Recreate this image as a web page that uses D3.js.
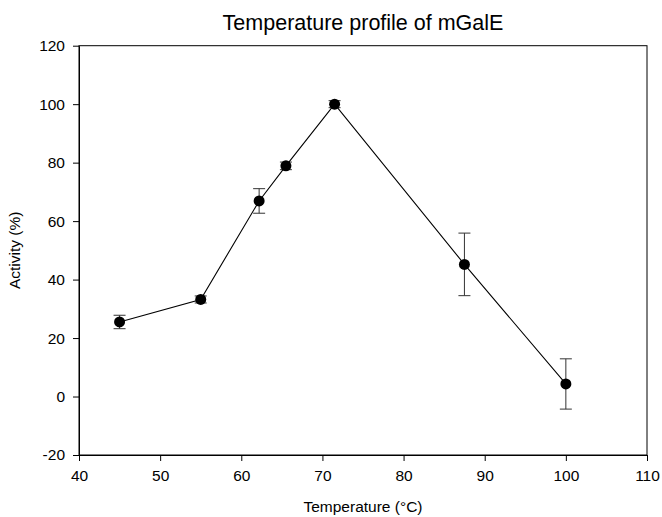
<!DOCTYPE html>
<html>
<head>
<meta charset="utf-8">
<script src="https://cdn.jsdelivr.net/npm/d3@7"></script>
<style>
  html, body { margin: 0; padding: 0; background: #fff; }
  svg { display: block; font-family: "Liberation Sans", Arial, sans-serif; }
</style>
</head>
<body>
<svg id="chart" width="662" height="517"></svg>
<script>
// Temperature (°C), relative activity (%) and its standard deviation
const temperature = [45, 55, 62.2, 65.5, 71.5, 87.5, 100];
const activity    = [25.5, 33.2, 66.9, 78.9, 100, 45.2, 4.3];
const errorSD     = [2.3, 1.2, 4.2, 1.3, 1.2, 10.7, 8.6];

const xTicks = [40, 50, 60, 70, 80, 90, 100, 110];
const yTicks = [-20, 0, 20, 40, 60, 80, 100, 120];

const titleText = "Temperature profile of mGalE";
const xLabel = "Temperature (°C)";
const yLabel = "Activity (%)";

const rows = temperature.map((t, i) => ({ t, a: activity[i], sd: errorSD[i] }));

const svg = d3.select("#chart");
const plotLeft = 79, plotRight = 647, plotTop = 45.7, plotBottom = 455;

const x = d3.scaleLinear().domain([40, 110]).range([plotLeft, plotRight]);
const y = d3.scaleLinear().domain([-20, 120]).range([plotBottom, plotTop]);

// frame
svg.append("rect")
  .attr("x", plotLeft).attr("y", plotTop)
  .attr("width", plotRight - plotLeft).attr("height", plotBottom - plotTop)
  .attr("fill", "none").attr("stroke", "#000").attr("stroke-width", 1);

// plain hyphen for negative tick labels
const plain = d => String(d);

const xAxis = svg.append("g")
  .attr("transform", `translate(0,${plotBottom})`)
  .call(d3.axisBottom(x).tickValues(xTicks).tickFormat(plain).tickSize(6).tickPadding(9).tickSizeOuter(0));
const yAxis = svg.append("g")
  .attr("transform", `translate(${plotLeft},0)`)
  .call(d3.axisLeft(y).tickValues(yTicks).tickFormat(plain).tickSize(6).tickPadding(8).tickSizeOuter(0));

[xAxis, yAxis].forEach(g => {
  g.select(".domain").attr("stroke", "#000");
  g.selectAll(".tick line").attr("stroke", "#000");
  g.selectAll(".tick text")
    .attr("fill", "#000")
    .style("font-family", "'Liberation Sans', Arial, sans-serif")
    .style("font-size", "15.5px");
});

// error bars
const cap = 6;
const eb = svg.append("g").attr("stroke", "#333").attr("stroke-width", 1).attr("fill", "none");
rows.forEach(d => {
  const cx = x(d.t), y1 = y(d.a + d.sd), y2 = y(d.a - d.sd);
  eb.append("line").attr("x1", cx).attr("x2", cx).attr("y1", y1).attr("y2", y2);
  eb.append("line").attr("x1", cx - cap).attr("x2", cx + cap).attr("y1", y1).attr("y2", y1);
  eb.append("line").attr("x1", cx - cap).attr("x2", cx + cap).attr("y1", y2).attr("y2", y2);
});

// connecting line
svg.append("path")
  .datum(rows)
  .attr("fill", "none")
  .attr("stroke", "#000")
  .attr("stroke-width", 1.1)
  .attr("d", d3.line().x(d => x(d.t)).y(d => y(d.a)));

// markers
svg.append("g").selectAll("circle")
  .data(rows)
  .join("circle")
  .attr("cx", d => x(d.t))
  .attr("cy", d => y(d.a))
  .attr("r", 5.5)
  .attr("fill", "#000");

// titles
svg.append("text")
  .attr("x", (plotLeft + plotRight) / 2).attr("y", 30)
  .attr("text-anchor", "middle")
  .style("font-size", "21.5px")
  .text(titleText);

svg.append("text")
  .attr("x", (plotLeft + plotRight) / 2).attr("y", 512)
  .attr("text-anchor", "middle")
  .style("font-size", "15.5px")
  .text(xLabel);

svg.append("text")
  .attr("transform", `translate(20,${(plotTop + plotBottom) / 2}) rotate(-90)`)
  .attr("text-anchor", "middle")
  .style("font-size", "15.5px")
  .text(yLabel);
</script>
</body>
</html>
